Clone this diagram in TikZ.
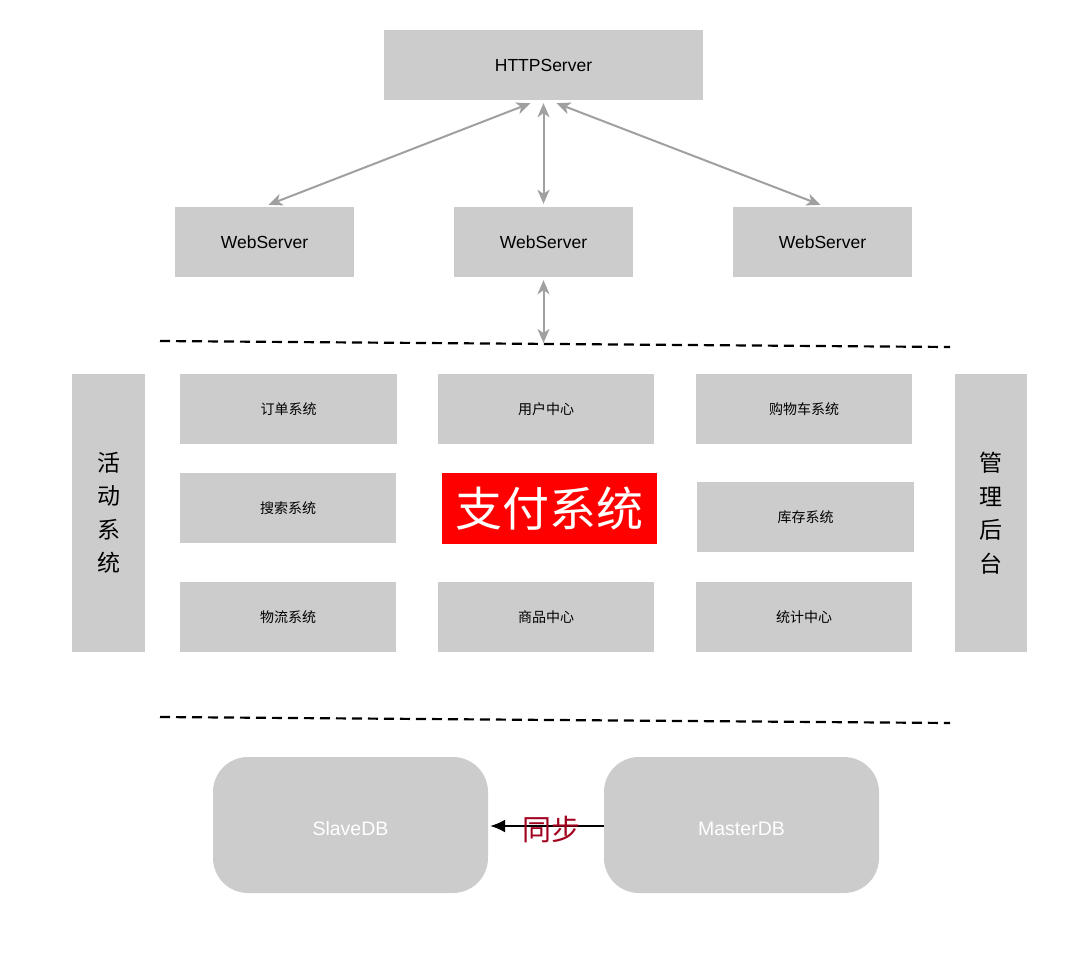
\documentclass[tikz,border=0pt]{standalone}
\usepackage{fontspec}
\setmainfont{Liberation Sans}
\newfontfamily\cjk{Noto Sans CJK SC}
\usetikzlibrary{arrows.meta}
\definecolor{boxgray}{HTML}{CCCCCC}
\definecolor{linkgray}{HTML}{A0A0A0}
\definecolor{syncred}{HTML}{A0001C}
\definecolor{payred}{HTML}{FF0000}
\tikzset{
  box/.style={fill=boxgray, inner sep=0pt, minimum width=#1, minimum height=70pt, align=center},
  server/.style={box=#1, font=\fontsize{17.5}{20}\selectfont},
  module/.style={box=216pt, font=\cjk\fontsize{14}{16}\selectfont},
  side/.style={box=73pt, minimum height=278pt, font=\cjk\fontsize{23}{33.5}\selectfont},
  db/.style={fill=boxgray, rounded corners=35pt, inner sep=0pt, minimum width=275pt, minimum height=136pt, text=white,
    text height=20pt, text depth=0pt, font=\fontsize{19.5}{22}\selectfont},
  link/.style={linkgray, line width=2pt, {Stealth[length=14pt,width=12pt,inset=4pt]}-{Stealth[length=14pt,width=12pt,inset=4pt]}},
  layer/.style={dash pattern=on 10pt off 6pt, line width=2.2pt}
}
\begin{document}
\begin{tikzpicture}[x=1pt, y=-1pt]
    \useasboundingbox (0,0) rectangle (1080,956);

    % servers
    \node at (543.5,65) [server=319pt] (http) {HTTPServer};
    \node at (264.5,242) [server=179pt] (web1) {WebServer};
    \node at (543.5,242) [server=179pt] (web2) {WebServer};
    \node at (822.5,242) [server=179pt] (web3) {WebServer};

    \draw[link] ([xshift=-13pt, yshift=-3pt]http.south) -- ([xshift=4pt, yshift=2pt]web1.north);
    \draw[link] ([yshift=-3pt]http.south) -- ([yshift=3pt]web2.north);
    \draw[link] ([xshift=13pt, yshift=-3pt]http.south) -- ([xshift=-2pt, yshift=2pt]web3.north);

    \coordinate (bus) at (543.5,343);
    \draw[link] ([yshift=-3pt]web2.south) -- (bus);

    % layers
    \draw[layer] (160,341) -- (950,347);
    \draw[layer] (160,717) -- (950,723);

    % modules
    \node at (108.5,513) [side] (act) {活\\动\\系\\统};
    \node at (991,513) [side, minimum width=72pt] (admin) {管\\理\\后\\台};

    \node at (288.5,409) [module, minimum width=217pt] (order) {订单系统};
    \node at (546,409) [module] (user) {用户中心};
    \node at (804,409) [module] (cart) {购物车系统};
    \node at (288,508) [module] (search) {搜索系统};
    \node at (549.5,508.5) [box=215pt, minimum height=71pt, fill=payred, text=white,
        font=\cjk\fontsize{47}{50}\selectfont] (pay) {支付系统};
    \node at (805.5,517) [module, minimum width=217pt] (stock) {库存系统};
    \node at (288,617) [module] (logistics) {物流系统};
    \node at (546,617) [module] (goods) {商品中心};
    \node at (804,617) [module] (stats) {统计中心};

    % databases
    \node at (350.5,825) [db] (slave) {SlaveDB};
    \node at (741.5,825) [db] (master) {MasterDB};

    \draw[-{Latex[length=15pt,width=13pt]}, line width=1.8pt] ([yshift=-1pt]master.west) -- ([xshift=2pt, yshift=-1pt]slave.east)
        node[midway, xshift=4pt, yshift=-3pt, text=syncred, font=\cjk\fontsize{29}{32}\selectfont] {同步};
\end{tikzpicture}
\end{document}
